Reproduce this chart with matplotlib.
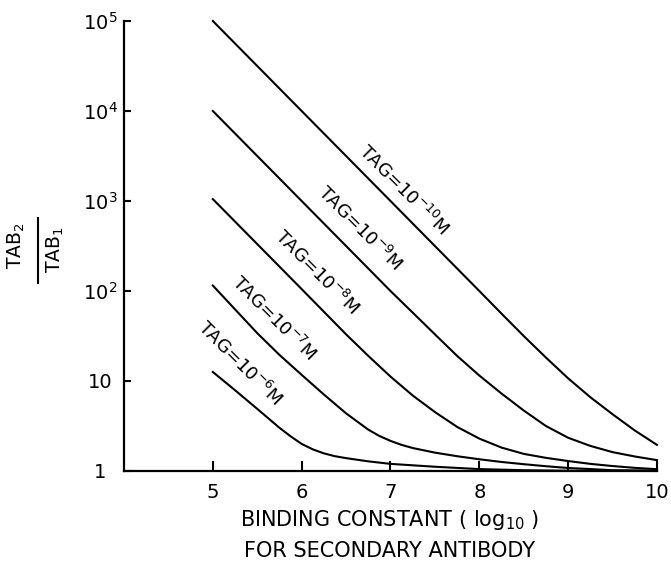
import numpy as np
import matplotlib.pyplot as plt
import matplotlib as mpl

mpl.rcParams['font.family'] = 'DejaVu Sans'
mpl.rcParams['mathtext.fontset'] = 'dejavusans'

# values (x = log10 binding constant, y = TAB2/TAB1)
x_10 = [5, 6, 7, 7.5, 8, 8.25, 8.5, 8.75, 9, 9.25, 9.5, 9.75, 10]
y_10 = [1e5, 1e4, 1e3, 316, 100, 56, 31.6, 18.2, 10.7, 6.6, 4.27, 2.82, 1.95]

x_9 = [5, 6, 7, 7.25, 7.5, 7.75, 8, 8.25, 8.5, 8.75, 9, 9.25, 9.5, 9.75, 10]
y_9 = [1e4, 1e3, 100, 57.5, 33, 19, 11.5, 7.25, 4.7, 3.16, 2.34, 1.9, 1.62, 1.45, 1.32]

x_8 = [5, 6, 6.5, 6.75, 7, 7.25, 7.5, 7.75, 8, 8.25, 8.5, 8.75, 9, 9.25, 9.5, 9.75, 10]
y_8 = [1050, 105, 33, 19, 11.2, 6.9, 4.52, 3.09, 2.29, 1.82, 1.55, 1.4, 1.29, 1.2, 1.135,
       1.084, 1.047]

x_7 = [5, 5.5, 5.75, 6, 6.25, 6.5, 6.75, 6.875, 7, 7.125, 7.25, 7.5, 7.75, 8, 8.25, 8.5,
       8.75, 9, 9.25, 9.5, 10]
y_7 = [115, 34, 19.5, 11.7, 7.08, 4.37, 2.88, 2.45, 2.16, 1.95, 1.8, 1.6, 1.46, 1.35, 1.26,
       1.19, 1.13, 1.08, 1.05, 1.02, 1.01]

x_6 = [5, 5.25, 5.5, 5.75, 5.875, 6, 6.125, 6.25, 6.375, 6.5, 6.75, 7, 7.5, 8, 8.5, 9, 10]
y_6 = [12.6, 7.9, 4.9, 3.02, 2.43, 2.0, 1.74, 1.57, 1.46, 1.39, 1.28, 1.2, 1.115, 1.05,
       1.02, 1.007, 1.0]

curves = [(x_10, y_10), (x_9, y_9), (x_8, y_8), (x_7, y_7), (x_6, y_6)]
labels = ['TAG=10$^{-10}$M', 'TAG=10$^{-9}$M', 'TAG=10$^{-8}$M',
          'TAG=10$^{-7}$M', 'TAG=10$^{-6}$M']
label_pos = [(7.15, 1320), (6.65, 500), (6.17, 162), (5.69, 50), (5.30, 15.8)]

xticks = [5, 6, 7, 8, 9, 10]
yticks = [1, 10, 100, 1000, 1e4, 1e5]
ytick_labels = ['1', '10', '10$^2$', '10$^3$', '10$^4$', '10$^5$']

fig = plt.figure(figsize=(6.71, 5.66), dpi=100)
ax = fig.add_axes([124/671, 1-471/566, (657-124)/671, (471-21)/566])

for (xs, ys) in curves:
    ax.plot(xs, ys, color='black', linewidth=1.5, clip_on=False,
            solid_joinstyle='round')

for lab, (lx, ly) in zip(labels, label_pos):
    ax.text(lx, ly, lab, fontsize=13, rotation=-45, rotation_mode='anchor',
            ha='center', va='center')

ax.set_yscale('log')
ax.set_xlim(4, 10)
ax.set_ylim(1, 1e5)
ax.spines['top'].set_visible(False)
ax.spines['right'].set_visible(False)
ax.spines['left'].set_linewidth(1.6)
ax.spines['bottom'].set_linewidth(1.6)

ax.set_xticks(xticks)
ax.set_xticklabels([str(t) for t in xticks])
ax.set_yticks(yticks)
ax.set_yticklabels(ytick_labels)
ax.yaxis.set_minor_locator(mpl.ticker.NullLocator())
ax.tick_params(axis='x', direction='in', length=7, width=1.5, labelsize=14, pad=9)
ax.tick_params(axis='y', direction='in', length=5, width=1.5, labelsize=14, pad=17)
for t in ax.get_yticklabels():
    t.set_ha('center')

# axis titles
fig.text(390/671, 1-520/566, 'BINDING CONSTANT ( log$_{10}$ )', fontsize=15,
         ha='center', va='center')
fig.text(390/671, 1-551/566, 'FOR SECONDARY ANTIBODY', fontsize=15,
         ha='center', va='center')

fig.text(16/671, 1-246/566, 'TAB$_2$', fontsize=13.5, rotation=90, ha='center', va='center')
fig.text(55/671, 1-250/566, 'TAB$_1$', fontsize=13.5, rotation=90, ha='center', va='center')
fig.add_artist(plt.Line2D([38/671, 38/671], [1-283/566, 1-218/566],
                          color='black', linewidth=1.5))

fig.savefig('out.png', dpi=100)
